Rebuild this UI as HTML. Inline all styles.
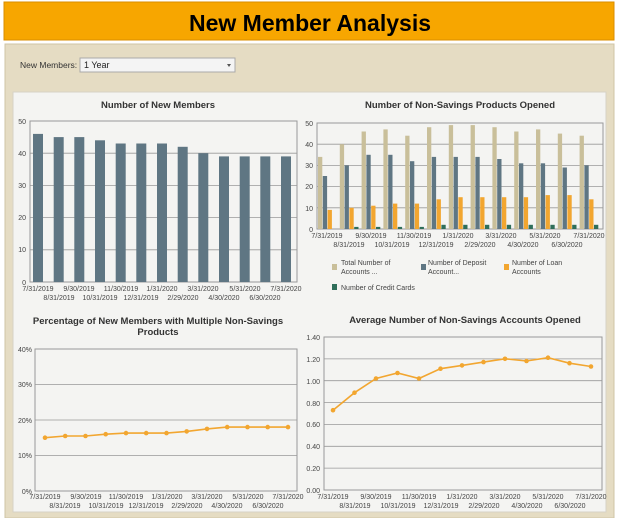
<!DOCTYPE html>
<html><head><meta charset="utf-8"><style>
html,body{margin:0;padding:0;background:#fff;}
svg{display:block;font-family:"Liberation Sans",sans-serif;}
</style></head><body>
<svg width="624" height="518" viewBox="0 0 624 518" xmlns="http://www.w3.org/2000/svg">
<rect x="4" y="2" width="610" height="38" fill="#f7a600" stroke="#d88e00"/>
<text x="310" y="31" text-anchor="middle" font-size="23" font-weight="bold" fill="#000">New Member Analysis</text>
<rect x="5" y="44" width="609" height="474" fill="#e5dcc3" stroke="#cfc4a6"/>
<text x="20" y="68" font-size="8.5" fill="#333">New Members:</text>
<rect x="80" y="58" width="155" height="14" fill="#f4f4f4" stroke="#aaa"/>
<text x="84" y="68" font-size="9" fill="#222">1 Year</text>
<path d="M227 64 l4 0 l-2 3z" fill="#555"/>
<rect x="13" y="92" width="593" height="420" fill="#f4f4f2" stroke="#d6d2c6"/>

<g font-size="7" fill="#444">
<!-- Chart 1 -->
<text x="158" y="108" text-anchor="middle" font-size="9.5" font-weight="bold" fill="#333">Number of New Members</text>
<g stroke="#999" stroke-width="0.8">
<line x1="30" y1="153.2" x2="297" y2="153.2"/><line x1="30" y1="185.4" x2="297" y2="185.4"/><line x1="30" y1="217.6" x2="297" y2="217.6"/><line x1="30" y1="249.8" x2="297" y2="249.8"/>
</g>
<rect x="30" y="121" width="267" height="161" fill="none" stroke="#999"/>
<g text-anchor="end"><text x="26" y="124">50</text><text x="26" y="156">40</text><text x="26" y="188">30</text><text x="26" y="220">20</text><text x="26" y="252">10</text><text x="26" y="285">0</text></g>
<g fill="#5f7683">
<rect x="33" y="133.9" width="10" height="148.1"/><rect x="53.7" y="137.1" width="10" height="144.9"/><rect x="74.3" y="137.1" width="10" height="144.9"/><rect x="95" y="140.3" width="10" height="141.7"/><rect x="115.7" y="143.5" width="10" height="138.5"/><rect x="136.3" y="143.5" width="10" height="138.5"/><rect x="157" y="143.5" width="10" height="138.5"/><rect x="177.7" y="146.8" width="10" height="135.2"/><rect x="198.3" y="153.2" width="10" height="128.8"/><rect x="219" y="156.4" width="10" height="125.6"/><rect x="239.7" y="156.4" width="10" height="125.6"/><rect x="260.3" y="156.4" width="10" height="125.6"/><rect x="281" y="156.4" width="10" height="125.6"/>
</g>
<g text-anchor="middle">
<text x="38" y="291">7/31/2019</text><text x="79" y="291">9/30/2019</text><text x="121" y="291">11/30/2019</text><text x="162" y="291">1/31/2020</text><text x="203" y="291">3/31/2020</text><text x="245" y="291">5/31/2020</text><text x="286" y="291">7/31/2020</text>
<text x="59" y="300">8/31/2019</text><text x="100" y="300">10/31/2019</text><text x="141" y="300">12/31/2019</text><text x="183" y="300">2/29/2020</text><text x="224" y="300">4/30/2020</text><text x="265" y="300">6/30/2020</text>
</g>

<!-- Chart 2 -->
<text x="460" y="108" text-anchor="middle" font-size="9.5" font-weight="bold" fill="#333">Number of Non-Savings Products Opened</text>
<g stroke="#999" stroke-width="0.8">
<line x1="317" y1="207.8" x2="603" y2="207.8"/><line x1="317" y1="186.6" x2="603" y2="186.6"/><line x1="317" y1="165.4" x2="603" y2="165.4"/><line x1="317" y1="144.2" x2="603" y2="144.2"/>
</g>
<rect x="317" y="123" width="286" height="106" fill="none" stroke="#999"/>
<g text-anchor="end"><text x="313" y="126">50</text><text x="313" y="147">40</text><text x="313" y="168">30</text><text x="313" y="189">20</text><text x="313" y="211">10</text><text x="313" y="232">0</text></g>
<g fill="#c9bf9a">
<rect x="318" y="156.9" width="4.3" height="72.1"/><rect x="339.8" y="144.2" width="4.3" height="84.8"/><rect x="361.6" y="131.5" width="4.3" height="97.5"/><rect x="383.4" y="129.4" width="4.3" height="99.6"/><rect x="405.2" y="135.7" width="4.3" height="93.3"/><rect x="427" y="127.2" width="4.3" height="101.8"/><rect x="448.8" y="125.1" width="4.3" height="103.9"/><rect x="470.6" y="125.1" width="4.3" height="103.9"/><rect x="492.4" y="127.2" width="4.3" height="101.8"/><rect x="514.2" y="131.5" width="4.3" height="97.5"/><rect x="536" y="129.4" width="4.3" height="99.6"/><rect x="557.8" y="133.6" width="4.3" height="95.4"/><rect x="579.6" y="135.7" width="4.3" height="93.3"/>
</g>
<g fill="#5f7683">
<rect x="322.8" y="176" width="4.3" height="53"/><rect x="344.6" y="165.4" width="4.3" height="63.6"/><rect x="366.4" y="154.8" width="4.3" height="74.2"/><rect x="388.2" y="154.8" width="4.3" height="74.2"/><rect x="410" y="161.2" width="4.3" height="67.8"/><rect x="431.8" y="156.9" width="4.3" height="72.1"/><rect x="453.6" y="156.9" width="4.3" height="72.1"/><rect x="475.4" y="156.9" width="4.3" height="72.1"/><rect x="497.2" y="159" width="4.3" height="70"/><rect x="519" y="163.3" width="4.3" height="65.7"/><rect x="540.8" y="163.3" width="4.3" height="65.7"/><rect x="562.6" y="167.5" width="4.3" height="61.5"/><rect x="584.4" y="165.4" width="4.3" height="63.6"/>
</g>
<g fill="#f2a630">
<rect x="327.6" y="209.9" width="4.3" height="19.1"/><rect x="349.4" y="207.8" width="4.3" height="21.2"/><rect x="371.2" y="205.7" width="4.3" height="23.3"/><rect x="393" y="203.6" width="4.3" height="25.4"/><rect x="414.8" y="203.6" width="4.3" height="25.4"/><rect x="436.6" y="199.3" width="4.3" height="29.7"/><rect x="458.4" y="197.2" width="4.3" height="31.8"/><rect x="480.2" y="197.2" width="4.3" height="31.8"/><rect x="502" y="197.2" width="4.3" height="31.8"/><rect x="523.8" y="197.2" width="4.3" height="31.8"/><rect x="545.6" y="195.1" width="4.3" height="33.9"/><rect x="567.4" y="195.1" width="4.3" height="33.9"/><rect x="589.2" y="199.3" width="4.3" height="29.7"/>
</g>
<g fill="#2f6e5a">
<rect x="354.2" y="226.9" width="4.3" height="2.1"/><rect x="376" y="226.9" width="4.3" height="2.1"/><rect x="397.8" y="226.9" width="4.3" height="2.1"/><rect x="419.6" y="226.9" width="4.3" height="2.1"/><rect x="441.4" y="224.8" width="4.3" height="4.2"/><rect x="463.2" y="224.8" width="4.3" height="4.2"/><rect x="485" y="224.8" width="4.3" height="4.2"/><rect x="506.8" y="224.8" width="4.3" height="4.2"/><rect x="528.6" y="224.8" width="4.3" height="4.2"/><rect x="550.4" y="224.8" width="4.3" height="4.2"/><rect x="572.2" y="224.8" width="4.3" height="4.2"/><rect x="594" y="224.8" width="4.3" height="4.2"/>
</g>
<g text-anchor="middle">
<text x="327" y="238">7/31/2019</text><text x="371" y="238">9/30/2019</text><text x="414" y="238">11/30/2019</text><text x="458" y="238">1/31/2020</text><text x="501" y="238">3/31/2020</text><text x="545" y="238">5/31/2020</text><text x="589" y="238">7/31/2020</text>
<text x="349" y="247">8/31/2019</text><text x="392" y="247">10/31/2019</text><text x="436" y="247">12/31/2019</text><text x="480" y="247">2/29/2020</text><text x="523" y="247">4/30/2020</text><text x="567" y="247">6/30/2020</text>
</g>
<g font-size="7">
<rect x="332" y="264" width="5" height="6" fill="#c9bf9a"/><text x="341" y="265">Total Number of</text><text x="341" y="274">Accounts ...</text>
<rect x="421" y="264" width="5" height="6" fill="#5f7683"/><text x="428" y="265">Number of Deposit</text><text x="428" y="274">Account...</text>
<rect x="504" y="264" width="5" height="6" fill="#f2a630"/><text x="512" y="265">Number of Loan</text><text x="512" y="274">Accounts</text>
<rect x="332" y="284" width="5" height="6" fill="#2f6e5a"/><text x="341" y="290">Number of Credit Cards</text>
</g>

<!-- Chart 3 -->
<text x="158" y="324" text-anchor="middle" font-size="9.5" font-weight="bold" fill="#333">Percentage of New Members with Multiple Non-Savings</text>
<text x="158" y="335" text-anchor="middle" font-size="9.5" font-weight="bold" fill="#333">Products</text>
<g stroke="#999" stroke-width="0.8">
<line x1="35" y1="455.5" x2="297" y2="455.5"/><line x1="35" y1="420" x2="297" y2="420"/><line x1="35" y1="384.5" x2="297" y2="384.5"/>
</g>
<rect x="35" y="349" width="262" height="142" fill="none" stroke="#999"/>
<g text-anchor="end"><text x="32" y="352">40%</text><text x="32" y="387">30%</text><text x="32" y="423">20%</text><text x="32" y="458">10%</text><text x="32" y="494">0%</text></g>
<polyline fill="none" stroke="#f2a630" stroke-width="1.6" points="45,437.7 65.2,436 85.5,436 105.7,434.2 126,433.1 146.2,433.1 166.5,433.1 186.7,431.4 207,428.9 227.2,427.1 247.5,427.1 267.7,427.1 288,427.1"/>
<g fill="#f2a630">
<circle cx="45" cy="437.7" r="2.3"/><circle cx="65.2" cy="436" r="2.3"/><circle cx="85.5" cy="436" r="2.3"/><circle cx="105.7" cy="434.2" r="2.3"/><circle cx="126" cy="433.1" r="2.3"/><circle cx="146.2" cy="433.1" r="2.3"/><circle cx="166.5" cy="433.1" r="2.3"/><circle cx="186.7" cy="431.4" r="2.3"/><circle cx="207" cy="428.9" r="2.3"/><circle cx="227.2" cy="427.1" r="2.3"/><circle cx="247.5" cy="427.1" r="2.3"/><circle cx="267.7" cy="427.1" r="2.3"/><circle cx="288" cy="427.1" r="2.3"/>
</g>
<g text-anchor="middle">
<text x="45" y="499">7/31/2019</text><text x="86" y="499">9/30/2019</text><text x="126" y="499">11/30/2019</text><text x="167" y="499">1/31/2020</text><text x="207" y="499">3/31/2020</text><text x="248" y="499">5/31/2020</text><text x="288" y="499">7/31/2020</text>
<text x="65" y="508">8/31/2019</text><text x="106" y="508">10/31/2019</text><text x="146" y="508">12/31/2019</text><text x="187" y="508">2/29/2020</text><text x="227" y="508">4/30/2020</text><text x="268" y="508">6/30/2020</text>
</g>

<!-- Chart 4 -->
<text x="465" y="323" text-anchor="middle" font-size="9.5" font-weight="bold" fill="#333">Average Number of Non-Savings Accounts Opened</text>
<g stroke="#999" stroke-width="0.8">
<line x1="324" y1="468.1" x2="602" y2="468.1"/><line x1="324" y1="446.3" x2="602" y2="446.3"/><line x1="324" y1="424.4" x2="602" y2="424.4"/><line x1="324" y1="402.6" x2="602" y2="402.6"/><line x1="324" y1="380.7" x2="602" y2="380.7"/><line x1="324" y1="358.9" x2="602" y2="358.9"/>
</g>
<rect x="324" y="337" width="278" height="153" fill="none" stroke="#999"/>
<g text-anchor="end"><text x="320" y="340">1.40</text><text x="320" y="362">1.20</text><text x="320" y="384">1.00</text><text x="320" y="406">0.80</text><text x="320" y="427">0.60</text><text x="320" y="449">0.40</text><text x="320" y="471">0.20</text><text x="320" y="493">0.00</text></g>
<polyline fill="none" stroke="#f2a630" stroke-width="1.6" points="333,410.2 354.5,392.7 376,378.5 397.5,373 419,378.5 440.5,368.7 462,365.4 483.5,362.1 505,358.8 526.5,361 548,357.7 569.5,363.2 591,366.5"/>
<g fill="#f2a630">
<circle cx="333" cy="410.2" r="2.3"/><circle cx="354.5" cy="392.7" r="2.3"/><circle cx="376" cy="378.5" r="2.3"/><circle cx="397.5" cy="373" r="2.3"/><circle cx="419" cy="378.5" r="2.3"/><circle cx="440.5" cy="368.7" r="2.3"/><circle cx="462" cy="365.4" r="2.3"/><circle cx="483.5" cy="362.1" r="2.3"/><circle cx="505" cy="358.8" r="2.3"/><circle cx="526.5" cy="361" r="2.3"/><circle cx="548" cy="357.7" r="2.3"/><circle cx="569.5" cy="363.2" r="2.3"/><circle cx="591" cy="366.5" r="2.3"/>
</g>
<g text-anchor="middle">
<text x="333" y="499">7/31/2019</text><text x="376" y="499">9/30/2019</text><text x="419" y="499">11/30/2019</text><text x="462" y="499">1/31/2020</text><text x="505" y="499">3/31/2020</text><text x="548" y="499">5/31/2020</text><text x="591" y="499">7/31/2020</text>
<text x="355" y="508">8/31/2019</text><text x="398" y="508">10/31/2019</text><text x="441" y="508">12/31/2019</text><text x="484" y="508">2/29/2020</text><text x="527" y="508">4/30/2020</text><text x="570" y="508">6/30/2020</text>
</g>
</g>
</svg>
</body></html>
